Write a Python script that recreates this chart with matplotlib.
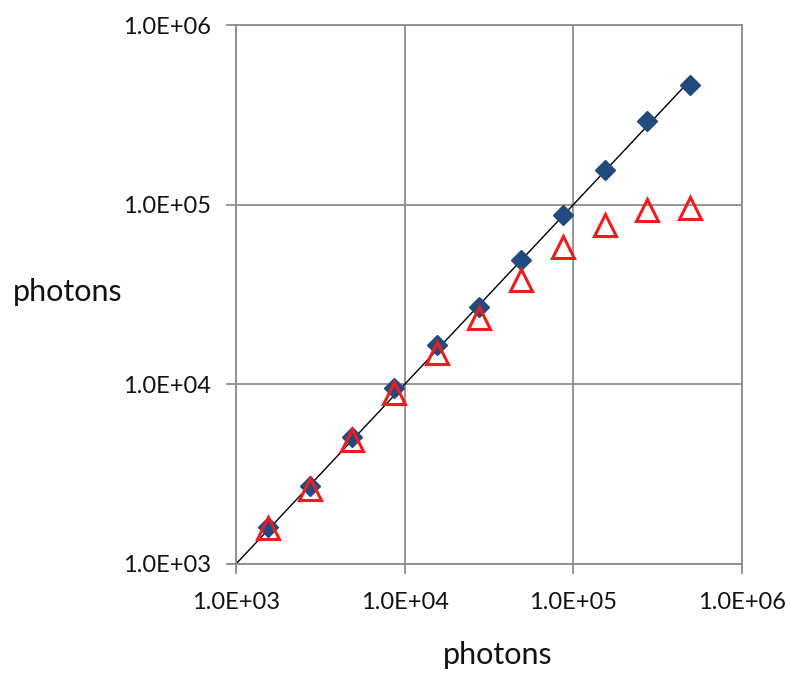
import matplotlib
matplotlib.use("Agg")
import matplotlib.pyplot as plt
from matplotlib.ticker import FixedLocator, FixedFormatter

plt.rcParams['font.family'] = ['Lato', 'DejaVu Sans']

# values (log-log, photons in vs photons out)
x_in = [1.55e3, 2.75e3, 4.9e3, 8.7e3, 1.55e4, 2.75e4, 4.9e4, 8.7e4, 1.55e5, 2.75e5, 4.9e5]
y_true = [1.6e3, 2.7e3, 5.1e3, 9.5e3, 1.65e4, 2.7e4, 4.9e4, 8.8e4, 1.56e5, 2.93e5, 4.65e5]
y_meas = [1.58e3, 2.6e3, 4.9e3, 8.9e3, 1.49e4, 2.33e4, 3.8e4, 5.8e4, 7.7e4, 9.3e4, 9.6e4]
fit_x = [1e3, 4.9e5]
fit_y = [1e3, 4.9e5]

tick_vals = [1e3, 1e4, 1e5, 1e6]
tick_labels = ["1.0E+03", "1.0E+04", "1.0E+05", "1.0E+06"]

fig = plt.figure(figsize=(7.9, 6.73), dpi=100)
ax = fig.add_axes([236/790, 1 - 564/673, (742 - 236)/790, (564 - 25)/673])

ax.plot(fit_x, fit_y, color='black', lw=1.0, zorder=2)
ax.plot(x_in, y_true, linestyle='none', marker='D', markersize=10.5,
        color='#234a7e', zorder=3)
ax.plot(x_in, y_meas, linestyle='none', marker='^', markersize=16,
        markerfacecolor='none', markeredgecolor='#ee1c1c', markeredgewidth=2.2, zorder=4)

ax.set_xscale('log')
ax.set_yscale('log')
ax.set_xlim(1e3, 1e6)
ax.set_ylim(1e3, 1e6)

for a in (ax.xaxis, ax.yaxis):
    a.set_major_locator(FixedLocator(tick_vals))
    a.set_major_formatter(FixedFormatter(tick_labels))
    a.set_minor_locator(FixedLocator([]))

ax.grid(True, color='#8c8c8c', lw=1.3)
for s in ax.spines.values():
    s.set_color('#8c8c8c')
    s.set_linewidth(1.3)
ax.tick_params(which='major', length=7, width=1.3, color='#8c8c8c',
               labelsize=17, labelcolor='#111111')
ax.tick_params(axis='x', pad=13)
ax.tick_params(axis='y', pad=11)

ax.set_xlabel("photons", fontsize=22, color='#111111', va='center', ha='center')
ax.xaxis.set_label_coords(0.518, -0.169)
ax.set_ylabel("photons", fontsize=22, rotation=0, color='#111111', va='center', ha='center')
ax.yaxis.set_label_coords(-0.332, 0.505)

fig.savefig("out.png", dpi=100)
